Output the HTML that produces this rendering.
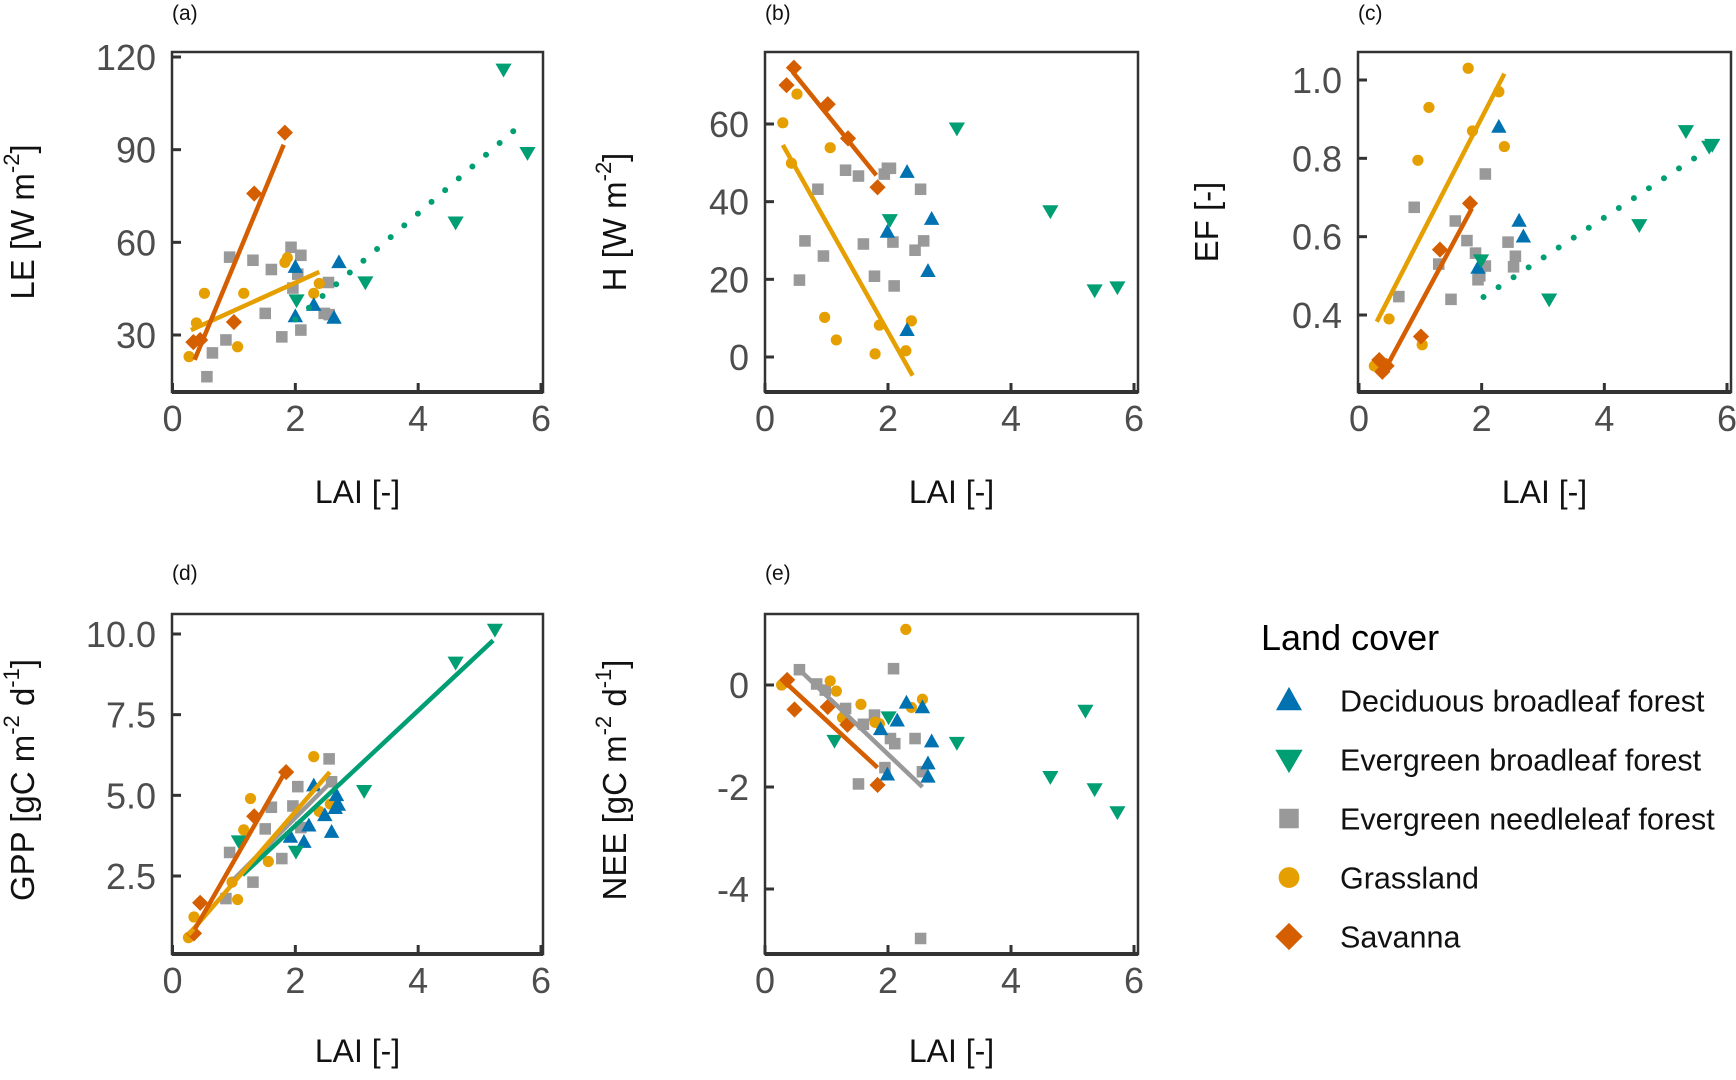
<!DOCTYPE html>
<html><head><meta charset="utf-8">
<style>
html,body{margin:0;padding:0;background:#fff;}
svg{display:block;font-family:"Liberation Sans",Arial,sans-serif;}
</style></head>
<body>
<svg id="fig" width="1736" height="1080" viewBox="0 0 1736 1080" xmlns="http://www.w3.org/2000/svg">
<rect width="1736" height="1080" fill="#fff"/>
</svg>
<script>
// ---------- data (LAI on x) ----------
// Panel a: LE
const LE_SAV_X=[0.34,0.45,1.0,1.33,1.83];
const LE_SAV_Y=[27.7,28.4,34.2,75.8,95.5];
const LE_GRA_X=[0.27,0.39,0.52,1.06,1.16,1.83,1.87,2.3,2.39];
const LE_GRA_Y=[23,33.9,43.5,26.2,43.5,53.5,55,43.5,46.7];
const LE_ENF_X=[0.56,0.65,0.87,0.93,1.31,1.51,1.61,1.78,1.93,1.96,2.04,2.09,2.09,2.47,2.54,2.55];
const LE_ENF_Y=[16.5,24.2,28.4,55.2,54.2,37,51.2,29.4,58.4,45.2,49.7,55.8,31.6,37,47,36.6];
const LE_DBF_X=[2.0,2.0,2.3,2.63,2.71];
const LE_DBF_Y=[52,36,39.7,35.5,53.5];
const LE_EBF_X=[2.02,3.14,4.61,5.39,5.78];
const LE_EBF_Y=[41.3,47.1,66.5,116,89];
const LE_FIT_SAV=[0.36,22,1.81,91.6];
const LE_FIT_GRA=[0.3,31.6,2.39,50.4];
const LE_FIT_EBF=[2.0,35,5.69,98.4];
// Panel b: H
const H_SAV_X=[0.35,0.47,1.02,1.35,1.83];
const H_SAV_Y=[70,74.5,65.1,56.3,43.7];
const H_GRA_X=[0.29,0.43,0.52,0.97,1.06,1.16,1.79,1.86,2.29,2.38];
const H_GRA_Y=[60.3,49.9,67.7,10.2,53.9,4.4,0.8,8.2,1.6,9.3];
const H_ENF_X=[0.56,0.65,0.86,0.95,1.31,1.52,1.6,1.78,1.94,1.99,2.04,2.08,2.1,2.44,2.53,2.58];
const H_ENF_Y=[19.8,29.9,43.2,26,48.1,46.6,29.1,20.8,47.1,48.6,48.6,29.6,18.3,27.5,43.2,29.9];
const H_DBF_X=[1.99,2.31,2.31,2.65,2.71];
const H_DBF_Y=[32.2,47.6,6.9,22.1,35.5];
const H_EBF_X=[2.03,3.12,4.64,5.36,5.73];
const H_EBF_Y=[35.3,58.9,37.6,17.2,18];
const H_FIT_SAV=[0.45,73.4,1.81,46.8];
const H_FIT_GRA=[0.29,54.6,2.4,-4.8];
// Panel c: EF
const EF_GRA_X=[0.25,0.49,0.96,1.03,1.14,1.78,1.85,2.28,2.37];
const EF_GRA_Y=[0.27,0.39,0.795,0.324,0.93,1.03,0.87,0.97,0.83];
const EF_SAV_X=[0.33,0.38,0.45,1.01,1.32,1.81];
const EF_SAV_Y=[0.285,0.255,0.27,0.345,0.567,0.685];
const EF_ENF_X=[0.65,0.9,1.3,1.5,1.57,1.76,1.9,1.94,1.97,2.06,2.06,2.43,2.52,2.55];
const EF_ENF_Y=[0.447,0.675,0.53,0.44,0.64,0.59,0.558,0.49,0.5,0.525,0.76,0.586,0.523,0.55];
const EF_DBF_X=[1.94,2.28,2.61,2.68];
const EF_DBF_Y=[0.52,0.88,0.64,0.6];
const EF_EBF_X=[1.99,3.1,4.57,5.33,5.71,5.76];
const EF_EBF_Y=[0.54,0.44,0.63,0.87,0.83,0.835];
const EF_FIT_GRA=[0.29,0.383,2.37,1.016];
const EF_FIT_SAV=[0.36,0.242,1.84,0.672];
const EF_FIT_EBF=[2.03,0.446,5.72,0.826];
// Panel d: GPP
const GPP_GRA_X=[0.26,0.35,0.97,1.06,1.16,1.27,1.56,2.3,2.39,2.57];
const GPP_GRA_Y=[0.59,1.23,2.31,1.77,3.93,4.9,2.95,6.2,4.5,4.73];
const GPP_SAV_X=[0.35,0.45,1.33,1.85];
const GPP_SAV_Y=[0.72,1.67,4.35,5.72];
const GPP_ENF_X=[0.87,0.93,1.31,1.51,1.61,1.78,1.96,2.04,2.09,2.55,2.59];
const GPP_ENF_Y=[1.8,3.23,2.31,3.96,4.63,3.04,4.67,5.27,4.0,6.13,5.42];
const GPP_DBF_X=[1.92,2.14,2.22,2.48,2.3,2.59,2.67,2.7,2.65];
const GPP_DBF_Y=[3.71,3.55,4.06,4.38,5.3,3.86,5.0,4.7,4.6];
const GPP_EBF_X=[1.08,2.01,3.12,4.61,5.25];
const GPP_EBF_Y=[3.58,3.26,5.14,9.12,10.14];
const GPP_FIT_ENF=[1.0,2.4,2.6,5.45];
const GPP_FIT_GRA=[0.26,0.68,2.56,5.72];
const GPP_FIT_SAV=[0.36,0.84,1.85,5.78];
const GPP_FIT_EBF=[1.14,2.53,5.22,9.8];
// Panel e: NEE
const NEE_GRA_X=[0.27,1.06,1.16,1.26,1.56,1.79,1.86,2.29,2.38,2.56];
const NEE_GRA_Y=[0,0.08,-0.12,-0.64,-0.38,-0.73,-0.76,1.09,-0.44,-0.28];
const NEE_SAV_X=[0.36,0.48,1.02,1.34,1.83];
const NEE_SAV_Y=[0.1,-0.48,-0.43,-0.78,-1.96];
const NEE_ENF_X=[0.56,0.84,0.98,1.31,1.52,1.6,1.78,1.95,2.04,2.09,2.11,2.44,2.53,2.56];
const NEE_ENF_Y=[0.3,0.02,-0.1,-0.46,-1.94,-0.77,-0.59,-1.62,-1.05,0.32,-1.15,-1.05,-4.97,-1.7];
const NEE_DBF_X=[1.88,1.99,2.15,2.3,2.56,2.65,2.65,2.71];
const NEE_DBF_Y=[-0.87,-1.76,-0.7,-0.35,-0.44,-1.54,-1.8,-1.11];
const NEE_EBF_X=[1.13,2.01,3.12,4.64,5.21,5.36,5.73];
const NEE_EBF_Y=[-1.09,-0.63,-1.13,-1.8,-0.5,-2.04,-2.49];
const NEE_FIT_SAV=[0.33,0.05,1.83,-1.62];
const NEE_FIT_ENF=[0.54,0.32,2.56,-2.0];
// ticks
const X_TICKS=[0,2,4,6];
const LE_TICKS=[30,60,90,120];
const H_TICKS=[0,20,40,60];
const EF_TICKS=[0.4,0.6,0.8,1.0];
const GPP_TICKS=[2.5,5.0,7.5,10.0];
const NEE_TICKS=[-4,-2,0];
const LEGEND_LABELS=["Deciduous broadleaf  forest","Evergreen broadleaf forest","Evergreen needleleaf forest","Grassland","Savanna"];

// ---------- drawing ----------
const NS="http://www.w3.org/2000/svg";
const svg=document.getElementById('fig');
const COL={dbf:"#0072B2",ebf:"#009E73",enf:"#999999",gra:"#E69F00",sav:"#D55E00"};
function mk(tag,attrs,parent){const e=document.createElementNS(NS,tag);for(const k in attrs)e.setAttribute(k,attrs[k]);(parent||svg).appendChild(e);return e;}
function marker(g,type,cx,cy,s){
  let e;
  if(type==='dbf'){e=mk('polygon',{points:`${cx},${cy-s*1.05} ${cx-s},${cy+s*0.75} ${cx+s},${cy+s*0.75}`,fill:COL.dbf},g);}
  else if(type==='ebf'){e=mk('polygon',{points:`${cx},${cy+s*1.05} ${cx-s*1.05},${cy-s*0.75} ${cx+s*1.05},${cy-s*0.75}`,fill:COL.ebf},g);}
  else if(type==='enf'){e=mk('rect',{x:cx-s*0.75,y:cy-s*0.75,width:s*1.5,height:s*1.5,fill:COL.enf},g);}
  else if(type==='gra'){e=mk('circle',{cx:cx,cy:cy,r:s*0.8,fill:COL.gra},g);}
  else {e=mk('polygon',{points:`${cx},${cy-s*1.05} ${cx+s*1.05},${cy} ${cx},${cy+s*1.05} ${cx-s*1.05},${cy}`,fill:COL.sav},g);}
  return e;
}
function panel(cfg){
  const g=mk('g',{});
  
  
  const xs=v=>cfg.x0+(v-0)*(cfg.x6-cfg.x0)/6;
  const ys=v=>cfg.ya+(v-cfg.va)*(cfg.yb-cfg.ya)/(cfg.vb-cfg.va);
  X_TICKS.forEach(t=>{
    const l=mk('line',{x1:xs(t),x2:xs(t),y1:cfg.B,y2:cfg.B-9,stroke:"#333","stroke-width":3},g);
    
    const tx=mk('text',{x:xs(t),y:cfg.B+39,"text-anchor":"middle","font-size":36,fill:"#4d4d4d"},g);
    tx.textContent=String(t);
    
  });
  cfg.ticks.forEach(t=>{
    const l=mk('line',{x1:cfg.L,x2:cfg.L+9,y1:ys(t),y2:ys(t),stroke:"#333","stroke-width":3},g);
    
    const tx=mk('text',{x:cfg.L-16,y:ys(t)+13,"text-anchor":"end","font-size":36,fill:"#4d4d4d"},g);
    tx.textContent=cfg.fmt(t);
    
  });
  cfg.series.forEach(s=>{
    const sg=mk('g',{},g);
    
    
    s.x.forEach((v,i)=>{
      const m=marker(sg,s.t,xs(v),ys(s.y[i]),s.t==='gra'?7:7.7);
      
      
    });
  });
  cfg.fits.forEach(f=>{
    const a={x1:xs(f.d[0]),y1:ys(f.d[1]),x2:xs(f.d[2]),y2:ys(f.d[3]),stroke:COL[f.t],"stroke-width":f.dot?6:4.5};
    if(f.dot){a["stroke-dasharray"]="0 18";a["stroke-linecap"]="round";}
    const l=mk('line',a,g);
    
    
  });
  const box=mk('rect',{x:cfg.L,y:cfg.T,width:cfg.R-cfg.L,height:cfg.B-cfg.T,fill:"none",stroke:"#333","stroke-width":2.5},g);
  
  mk('line',{x1:cfg.L,x2:cfg.R,y1:cfg.B,y2:cfg.B,stroke:"#333","stroke-width":4},g);
  const lab=mk('text',{x:cfg.L,y:cfg.ly,"font-size":21,fill:"#111"},g);
  lab.textContent=cfg.label;
  
  const xt=mk('text',{x:(cfg.L+cfg.R)/2,y:cfg.B+cfg.xto,"text-anchor":"middle","font-size":32,fill:"#111"},g);
  xt.textContent="LAI [-]";
  
  const yt=mk('text',{x:0,y:0,"text-anchor":"middle","font-size":33,fill:"#111",transform:`translate(${cfg.ytx},${cfg.yty}) rotate(-90)`},g);
  
  cfg.ytitle.forEach(p=>{const ts=mk('tspan',p.sup?{"font-size":22,dy:-15}:(p.after?{dy:15}:{}),yt);ts.textContent=p.t;});
}
const f0=t=>String(t), f1=t=>t.toFixed(1);
panel({name:'panel-a-le',label:'(a)',ly:20,xto:111,L:172,R:543,T:52,B:392,x0:172.5,x6:541,ya:335,va:30,yb:57,vb:120,ticks:LE_TICKS,fmt:f0,ytx:34,yty:222,
  ytitle:[{t:'LE [W m'},{t:'-2',sup:true},{t:']',after:true}],
  series:[{t:'enf',x:LE_ENF_X,y:LE_ENF_Y},{t:'gra',x:LE_GRA_X,y:LE_GRA_Y},{t:'dbf',x:LE_DBF_X,y:LE_DBF_Y},{t:'ebf',x:LE_EBF_X,y:LE_EBF_Y},{t:'sav',x:LE_SAV_X,y:LE_SAV_Y}],
  fits:[{t:'gra',d:LE_FIT_GRA},{t:'sav',d:LE_FIT_SAV},{t:'ebf',d:LE_FIT_EBF,dot:true}]});
panel({name:'panel-b-h',label:'(b)',ly:20,xto:111,L:765,R:1138,T:52,B:392,x0:765,x6:1134,ya:357,va:0,yb:124,vb:60,ticks:H_TICKS,fmt:f0,ytx:626,yty:222,
  ytitle:[{t:'H [W m'},{t:'-2',sup:true},{t:']',after:true}],
  series:[{t:'enf',x:H_ENF_X,y:H_ENF_Y},{t:'gra',x:H_GRA_X,y:H_GRA_Y},{t:'dbf',x:H_DBF_X,y:H_DBF_Y},{t:'ebf',x:H_EBF_X,y:H_EBF_Y},{t:'sav',x:H_SAV_X,y:H_SAV_Y}],
  fits:[{t:'gra',d:H_FIT_GRA},{t:'sav',d:H_FIT_SAV}]});
panel({name:'panel-c-ef',label:'(c)',ly:20,xto:111,L:1358,R:1731,T:52,B:392,x0:1359,x6:1727,ya:315,va:0.4,yb:80,vb:1.0,ticks:EF_TICKS,fmt:f1,ytx:1218,yty:222,
  ytitle:[{t:'EF [-]'}],
  series:[{t:'enf',x:EF_ENF_X,y:EF_ENF_Y},{t:'gra',x:EF_GRA_X,y:EF_GRA_Y},{t:'dbf',x:EF_DBF_X,y:EF_DBF_Y},{t:'ebf',x:EF_EBF_X,y:EF_EBF_Y},{t:'sav',x:EF_SAV_X,y:EF_SAV_Y}],
  fits:[{t:'gra',d:EF_FIT_GRA},{t:'sav',d:EF_FIT_SAV},{t:'ebf',d:EF_FIT_EBF,dot:true}]});
panel({name:'panel-d-gpp',label:'(d)',ly:580,xto:108,L:172,R:543,T:614,B:954,x0:172.5,x6:541,ya:876,va:2.5,yb:634,vb:10.0,ticks:GPP_TICKS,fmt:f1,ytx:34,yty:780,
  ytitle:[{t:'GPP [gC m'},{t:'-2',sup:true},{t:' d',after:true},{t:'-1',sup:true},{t:']',after:true}],
  series:[{t:'enf',x:GPP_ENF_X,y:GPP_ENF_Y},{t:'gra',x:GPP_GRA_X,y:GPP_GRA_Y},{t:'dbf',x:GPP_DBF_X,y:GPP_DBF_Y},{t:'ebf',x:GPP_EBF_X,y:GPP_EBF_Y},{t:'sav',x:GPP_SAV_X,y:GPP_SAV_Y}],
  fits:[{t:'enf',d:GPP_FIT_ENF},{t:'ebf',d:GPP_FIT_EBF},{t:'gra',d:GPP_FIT_GRA},{t:'sav',d:GPP_FIT_SAV}]});
panel({name:'panel-e-nee',label:'(e)',ly:580,xto:108,L:765,R:1138,T:614,B:954,x0:765,x6:1134,ya:685,va:0,yb:787,vb:-2,ticks:NEE_TICKS,fmt:f0,ytx:626,yty:780,
  ytitle:[{t:'NEE [gC m'},{t:'-2',sup:true},{t:' d',after:true},{t:'-1',sup:true},{t:']',after:true}],
  series:[{t:'enf',x:NEE_ENF_X,y:NEE_ENF_Y},{t:'gra',x:NEE_GRA_X,y:NEE_GRA_Y},{t:'dbf',x:NEE_DBF_X,y:NEE_DBF_Y},{t:'ebf',x:NEE_EBF_X,y:NEE_EBF_Y},{t:'sav',x:NEE_SAV_X,y:NEE_SAV_Y}],
  fits:[{t:'enf',d:NEE_FIT_ENF},{t:'sav',d:NEE_FIT_SAV}]});
// legend
const lg=mk('g',{});


const lt=mk('text',{x:1261,y:650,"font-size":36,fill:"#000","xml:space":"preserve"},lg);
lt.textContent="Land  cover";


const LTYPES=['dbf','ebf','enf','gra','sav'];
LEGEND_LABELS.forEach((name,i)=>{
  const cy=700.5+i*59;
  const eg=mk('g',{},lg);
  
  
  marker(eg,LTYPES[i],1289,cy,13);
  const t=mk('text',{x:1340,y:cy+11,"font-size":30.5,fill:"#111","xml:space":"preserve"},eg);
  t.textContent=name;
});
</script>
</body></html>
